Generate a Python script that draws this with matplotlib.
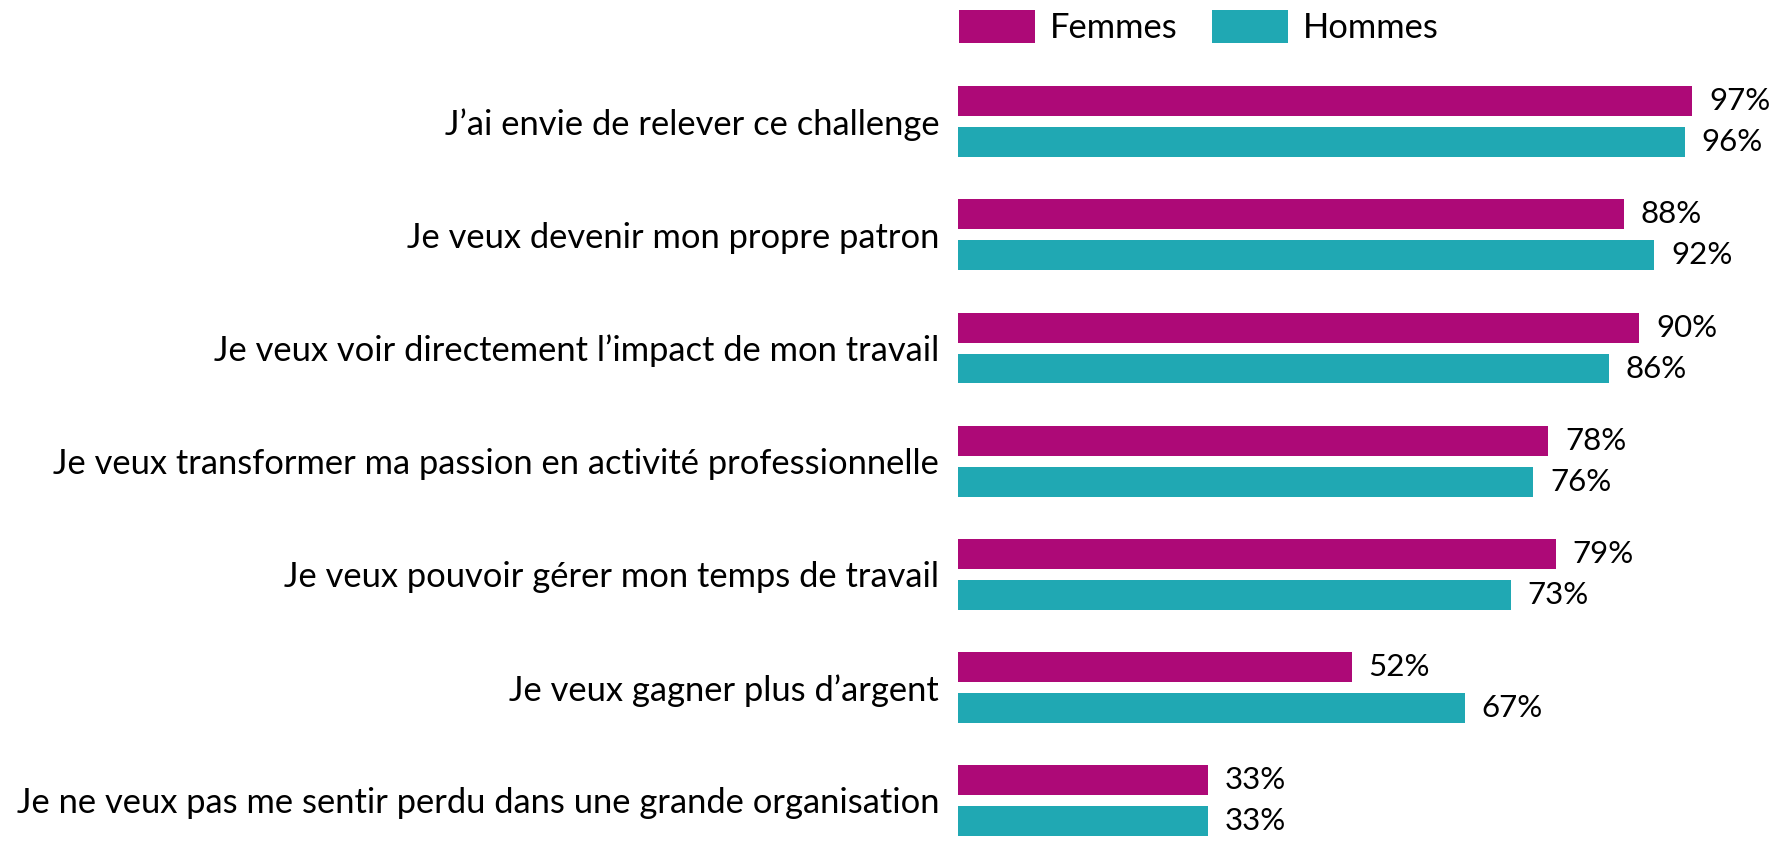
import numpy as np
import matplotlib.pyplot as plt

categories = [
    "J\u2019ai envie de relever ce challenge",
    "Je veux devenir mon propre patron",
    "Je veux voir directement l\u2019impact de mon travail",
    "Je veux transformer ma passion en activité professionnelle",
    "Je veux pouvoir gérer mon temps de travail",
    "Je veux gagner plus d\u2019argent",
    "Je ne veux pas me sentir perdu dans une grande organisation",
]
femmes = [97, 88, 90, 78, 79, 52, 33]
hommes = [96, 92, 86, 76, 73, 67, 33]
series_names = ["Femmes", "Hommes"]
colors = ["#AD0977", "#20A8B3"]

plt.rc("font", family=["Lato", "DejaVu Sans"], size=24.8)
fig = plt.figure(figsize=(17.83, 8.44), dpi=100)
ax = fig.add_axes([958 / 1783, 0, 757 / 1783, 1])

y = np.arange(len(categories))
h = 0.265
off = 0.181

b1 = ax.barh(y - off, femmes, height=h, color=colors[0], label=series_names[0])
b2 = ax.barh(y + off, hommes, height=h, color=colors[1], label=series_names[1])

# value labels right of each bar
for bars, vals in [(b1, femmes), (b2, hommes)]:
    for bar, v in zip(bars, vals):
        ax.annotate(f"{v}%", xy=(bar.get_width(), bar.get_y() + bar.get_height() / 2),
                    xytext=(12, 0), textcoords="offset points", size=22.5,
                    va="center", ha="left", color="black", annotation_clip=False)

ax.set_xlim(0, 100)
ax.set_ylim(6.385, -1.077)
ax.set_yticks(y, labels=categories)
ax.tick_params(axis="y", length=0, pad=13.5)
ax.set_xticks([])
for s in ax.spines.values():
    s.set_visible(False)

fig.legend(loc="upper left", bbox_to_anchor=(959 / 1783, 1 - 10 / 844), ncol=2,
           frameon=False, borderpad=0, borderaxespad=0, handlelength=2.2,
           handleheight=1.1, handletextpad=0.44, columnspacing=1.0)

fig.savefig("out.png", dpi=100)
